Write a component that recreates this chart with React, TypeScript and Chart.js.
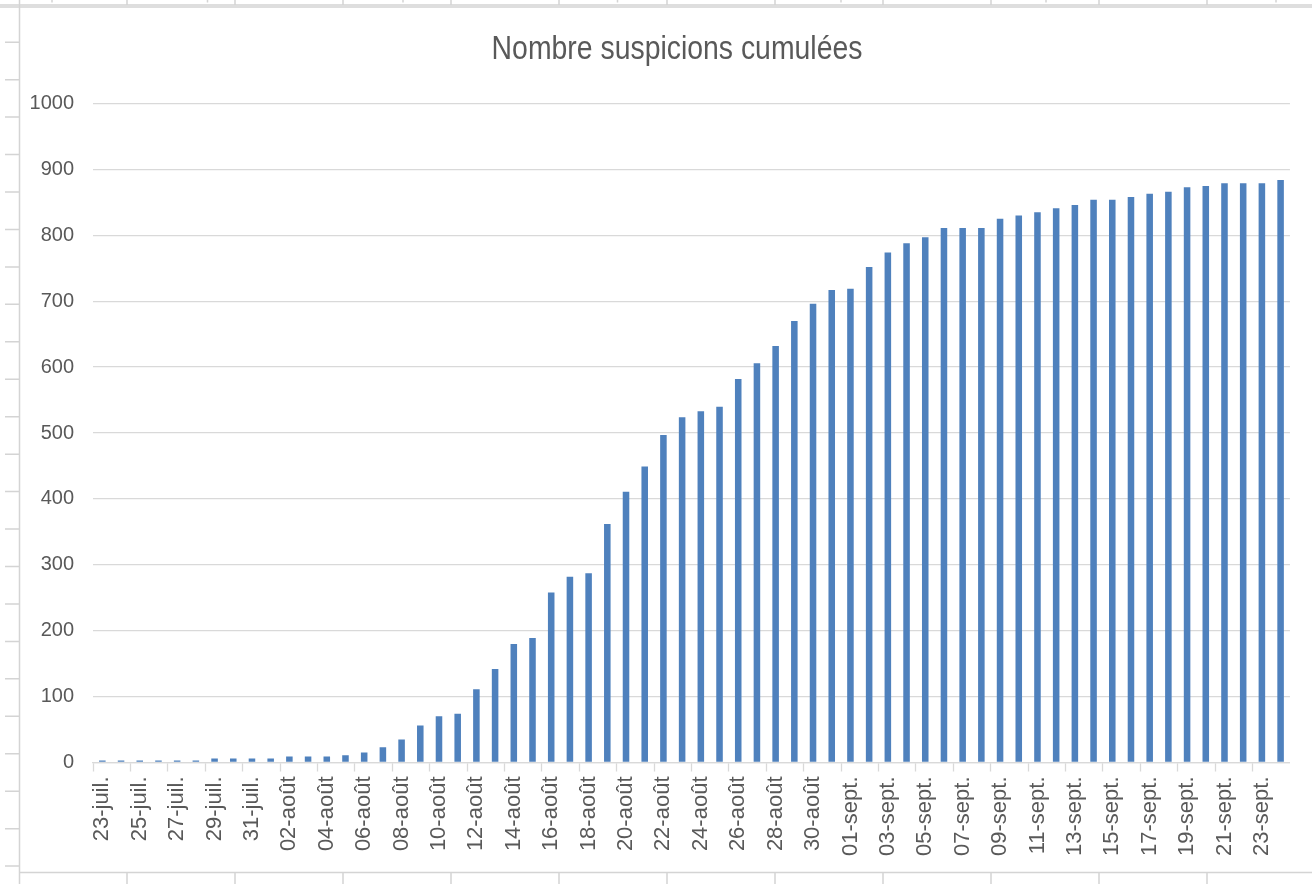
import React, { useEffect, useRef } from "react";
import { Chart, registerables } from "chart.js";

Chart.register(...registerables);

const TITLE = "Nombre suspicions cumulées";

const DATES: string[] = [
  "23-juil.", "24-juil.", "25-juil.", "26-juil.", "27-juil.", "28-juil.", "29-juil.", "30-juil.", "31-juil.",
  "01-août", "02-août", "03-août", "04-août", "05-août", "06-août", "07-août", "08-août", "09-août", "10-août",
  "11-août", "12-août", "13-août", "14-août", "15-août", "16-août", "17-août", "18-août", "19-août", "20-août",
  "21-août", "22-août", "23-août", "24-août", "25-août", "26-août", "27-août", "28-août", "29-août", "30-août",
  "31-août",
  "01-sept.", "02-sept.", "03-sept.", "04-sept.", "05-sept.", "06-sept.", "07-sept.", "08-sept.", "09-sept.",
  "10-sept.", "11-sept.", "12-sept.", "13-sept.", "14-sept.", "15-sept.", "16-sept.", "17-sept.", "18-sept.",
  "19-sept.", "20-sept.", "21-sept.", "22-sept.", "23-sept.", "24-sept.",
];

const SUSPICIONS: number[] = [
  3, 3, 3, 3, 3, 3, 6, 6, 6,
  6, 9, 9, 9, 11, 15, 23, 35, 56, 70,
  74, 111, 142, 180, 189, 258, 282, 287, 362, 411,
  449, 497, 524, 533, 540, 582, 606, 632, 670, 696,
  717,
  719, 752, 774, 788, 797, 811, 811, 811, 825,
  830, 835, 841, 846, 854, 854, 858, 863, 866,
  873, 875, 879, 879, 879, 884,
];

const Y_MIN = 0;
const Y_MAX = 1000;
const Y_STEP = 100;

const BAR_COLOR = "#4f81bd";
const GRID_COLOR = "#d9d9d9";
const TEXT_COLOR = "#595959";
const SHEET_LINE = "#d4d4d4";

// Spreadsheet cell borders visible around the chart object in the screenshot
const sheetFrame = {
  id: "sheetFrame",
  beforeDraw(chart: any) {
    const { ctx, width, height } = chart;
    ctx.save();
    ctx.fillStyle = "#ffffff";
    ctx.fillRect(0, 0, width, height);
    ctx.strokeStyle = SHEET_LINE;
    ctx.lineWidth = 1.5;
    ctx.beginPath();
    ctx.moveTo(0, 5);
    ctx.lineTo(width, 5);
    ctx.moveTo(0, 7);
    ctx.lineTo(width, 7);
    ctx.moveTo(19.5, 0);
    ctx.lineTo(19.5, height);
    ctx.moveTo(19.5, 872.5);
    ctx.lineTo(width, 872.5);
    ctx.stroke();
    ctx.beginPath();
    for (let y = 42.2; y < height; y += 37.45) {
      ctx.moveTo(5, y);
      ctx.lineTo(19, y);
    }
    for (let x = 127; x < width; x += 108) {
      ctx.moveTo(x, 873);
      ctx.lineTo(x, height);
      ctx.moveTo(x, 0);
      ctx.lineTo(x, 5);
    }
    [52, 207.5, 403, 617.5, 841, 1046, 1276].forEach((x) => {
      ctx.moveTo(x, 0);
      ctx.lineTo(x, 2.5);
    });
    ctx.stroke();
    ctx.restore();
  },
  // Title drawn in a condensed face (like the Calibri Light title of the original)
  afterDraw(chart: any) {
    const { ctx } = chart;
    ctx.save();
    ctx.translate(677, 49.5);
    ctx.scale(0.835, 1);
    ctx.fillStyle = TEXT_COLOR;
    ctx.font = "normal 34px 'Liberation Sans', Arial, sans-serif";
    ctx.textAlign = "center";
    ctx.textBaseline = "middle";
    ctx.fillText(TITLE, 0, 0);
    ctx.restore();
  },
};

export default function App() {
  const canvasRef = useRef<HTMLCanvasElement | null>(null);

  useEffect(() => {
    if (!canvasRef.current) return;
    const chart = new Chart(canvasRef.current, {
      type: "bar",
      data: {
        labels: DATES,
        datasets: [
          {
            label: TITLE,
            data: SUSPICIONS,
            backgroundColor: BAR_COLOR,
            borderWidth: 0,
            barPercentage: 0.35,
            categoryPercentage: 1,
          },
        ],
      },
      options: {
        responsive: false,
        animation: false,
        devicePixelRatio: 1,
        layout: { padding: { left: 0, right: 1, top: 103.5, bottom: 0 } },
        plugins: {
          legend: { display: false },
          tooltip: { enabled: false },
          title: { display: false },
        },
        scales: {
          x: {
            type: "category",
            offset: true,
            afterFit: (s: any) => {
              s.height = 121.5;
            },
            grid: {
              offset: true,
              drawOnChartArea: false,
              drawTicks: true,
              tickLength: 9,
              tickWidth: 1.3,
              tickColor: (c: any) => (c.index % 2 === 0 ? GRID_COLOR : "rgba(0,0,0,0)"),
            },
            border: { display: true, color: GRID_COLOR, width: 1.3 },
            ticks: {
              autoSkip: false,
              minRotation: 90,
              maxRotation: 90,
              padding: 5,
              color: TEXT_COLOR,
              font: { family: "'Liberation Sans', Arial, sans-serif", size: 22 },
              callback: (_v: any, i: number) => (i % 2 === 0 ? DATES[i] : ""),
            },
          },
          y: {
            min: Y_MIN,
            max: Y_MAX,
            afterFit: (s: any) => {
              s.width = 93;
            },
            grid: { color: GRID_COLOR, lineWidth: 1.3, drawTicks: false },
            border: { display: false },
            ticks: {
              stepSize: Y_STEP,
              padding: 19,
              color: TEXT_COLOR,
              font: { family: "'Liberation Sans', Arial, sans-serif", size: 20 },
              callback: (v: any) => String(v),
            },
          },
        },
      },
      plugins: [sheetFrame],
    });
    return () => chart.destroy();
  }, []);

  return (
    <div style={{ position: "fixed", left: 0, top: 0, width: 1312, height: 884, background: "#fff" }}>
      <canvas ref={canvasRef} width={1312} height={884} style={{ display: "block" }} />
    </div>
  );
}
